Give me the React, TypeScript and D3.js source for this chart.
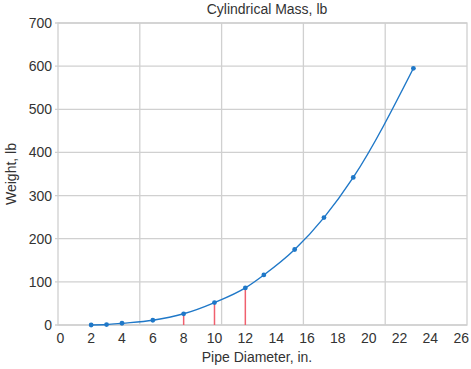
import React, { useEffect, useRef } from 'react';
import * as d3 from 'd3';

// pipe diameter (in.) and weight (lb)
const diameters = [2, 3, 4, 6, 8, 10, 12, 13.2, 15.2, 17.1, 19, 22.9];
const weights = [0, 1, 4, 11, 26, 52, 86, 116, 175, 249, 342, 595];
const markedDiameters = [8, 10, 12];
const xTicks = d3.range(0, 27, 2);
const yTicks = [0, 100, 200, 300, 400, 500, 600, 700];

const W = 471;
const H = 369;

const App = () => {
    const svgRef = useRef<SVGSVGElement>(null);

    useEffect(() => {
        const svg = d3.select(svgRef.current);
        svg.selectAll('*').remove();

        const left = 58, right = 467, top = 23, bottom = 325;
        const font = '"Liberation Sans", Arial, sans-serif';

        // tick labels are spaced on their own scale, grid divides the box evenly
        const x = d3.scaleLinear().domain([0, 26]).range([60.3, 461.2]);
        const y = d3.scaleLinear().domain([0, 700]).range([bottom, top]);

        const g = svg.append('g');

        // vertical grid: box split into 5 columns
        d3.range(1, 5).forEach(i => {
            const gx = left + (right - left) * i / 5;
            g.append('line')
                .attr('x1', gx).attr('x2', gx)
                .attr('y1', top).attr('y2', bottom)
                .style('stroke', '#d0d0d0').style('stroke-width', 1.3);
        });

        // horizontal grid + y labels
        yTicks.forEach(t => {
            g.append('line')
                .attr('x1', left - 3).attr('x2', right)
                .attr('y1', y(t)).attr('y2', y(t))
                .style('stroke', '#d0d0d0').style('stroke-width', 1.3);
            g.append('text')
                .attr('x', left - 6)
                .attr('y', y(t))
                .attr('text-anchor', 'end')
                .attr('dominant-baseline', 'central')
                .text(t)
                .style('font-family', font)
                .style('font-size', '14px')
                .style('fill', '#333');
        });

        // box
        g.append('rect')
            .attr('x', left).attr('y', top)
            .attr('width', right - left).attr('height', bottom - top)
            .style('fill', 'none')
            .style('stroke', '#d0d0d0').style('stroke-width', 1.3);

        // x labels
        xTicks.forEach(t => {
            g.append('text')
                .attr('x', x(t))
                .attr('y', bottom + 13)
                .attr('text-anchor', 'middle')
                .attr('dominant-baseline', 'central')
                .text(t)
                .style('font-family', font)
                .style('font-size', '14px')
                .style('fill', '#333');
        });

        const data = diameters.map((d, i) => ({ d, w: weights[i] }));

        // red drop lines
        markedDiameters.forEach(md => {
            const p = data.find(v => v.d === md);
            if (!p) return;
            g.append('line')
                .attr('x1', x(p.d)).attr('x2', x(p.d))
                .attr('y1', y(0)).attr('y2', y(p.w))
                .style('stroke', '#f0606e').style('stroke-width', 1.5);
        });

        const line = d3.line<{ d: number; w: number }>()
            .x(v => x(v.d))
            .y(v => y(v.w))
            .curve(d3.curveMonotoneX);

        g.append('path')
            .datum(data)
            .attr('d', line)
            .style('fill', 'none')
            .style('stroke', '#1f78c8')
            .style('stroke-width', 1.4);

        g.selectAll('.pt')
            .data(data)
            .enter()
            .append('circle')
            .attr('class', 'pt')
            .attr('cx', v => x(v.d))
            .attr('cy', v => y(v.w))
            .attr('r', 2.4)
            .style('fill', '#1f78c8');

        // titles
        svg.append('text')
            .attr('x', 267).attr('y', 9)
            .attr('text-anchor', 'middle')
            .attr('dominant-baseline', 'central')
            .text('Cylindrical Mass, lb')
            .style('font-family', font)
            .style('font-size', '14px')
            .style('fill', '#333');

        svg.append('text')
            .attr('x', 257).attr('y', 357)
            .attr('text-anchor', 'middle')
            .attr('dominant-baseline', 'central')
            .text('Pipe Diameter, in.')
            .style('font-family', font)
            .style('font-size', '14px')
            .style('fill', '#333');

        svg.append('text')
            .attr('transform', `translate(11, ${(top + bottom) / 2}) rotate(-90)`)
            .attr('text-anchor', 'middle')
            .attr('dominant-baseline', 'central')
            .text('Weight, lb')
            .style('font-family', font)
            .style('font-size', '14px')
            .style('fill', '#333');
    }, []);

    return (
        <svg
            ref={svgRef}
            width={W}
            height={H}
            style={{ position: 'absolute', left: 0, top: 0, background: '#fff' }}
        />
    );
};

export default App;
